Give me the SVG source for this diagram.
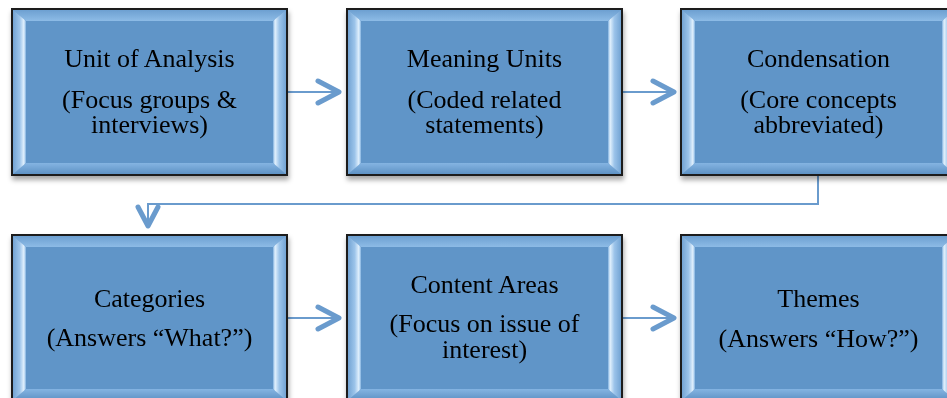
<svg xmlns="http://www.w3.org/2000/svg" width="947" height="398" viewBox="0 0 947 398">
<defs>
<filter id="sh" x="-10%" y="-10%" width="120%" height="125%">
<feDropShadow dx="1" dy="4" stdDeviation="2.5" flood-color="#000" flood-opacity="0.35"/>
</filter>
<linearGradient id="gl" x1="0" y1="0" x2="1" y2="0">
<stop offset="0" stop-color="#6d9fd0"/>
<stop offset="0.55" stop-color="#9cc4ea"/>
<stop offset="0.85" stop-color="#e2f1fd"/>
<stop offset="1" stop-color="#7fb0df"/>
</linearGradient>
<linearGradient id="gr" x1="1" y1="0" x2="0" y2="0">
<stop offset="0" stop-color="#6d9fd0"/>
<stop offset="0.55" stop-color="#9cc4ea"/>
<stop offset="0.85" stop-color="#e2f1fd"/>
<stop offset="1" stop-color="#7fb0df"/>
</linearGradient>
<linearGradient id="gt" x1="0" y1="0" x2="0" y2="1">
<stop offset="0" stop-color="#6a9dcf"/>
<stop offset="1" stop-color="#8dbbe6"/>
</linearGradient>
<linearGradient id="gb" x1="0" y1="1" x2="0" y2="0">
<stop offset="0" stop-color="#5b8fc2"/>
<stop offset="1" stop-color="#84b4e2"/>
</linearGradient>
<g id="box">
<rect x="0" y="0" width="275" height="166" fill="#6195c8"/>
<polygon points="0,0 275,0 261,12 14,12" fill="url(#gt)"/>
<polygon points="0,166 275,166 261,154 14,154" fill="url(#gb)"/>
<polygon points="0,0 14,12 14,154 0,166" fill="url(#gl)"/>
<polygon points="275,0 261,12 261,154 275,166" fill="url(#gr)"/>
<rect x="0" y="0" width="275" height="166" fill="none" stroke="#1a1a1a" stroke-width="2"/>
</g>
<style>
text{font-family:"Liberation Serif","Times New Roman",serif;font-size:26px;fill:#000;text-anchor:middle}
.ln{fill:none;stroke:#6a9bcd;stroke-width:2}
.hd{fill:none;stroke:#6a9bcd;stroke-width:5;stroke-linecap:round;stroke-linejoin:round}
</style>
</defs>

<g id="connectors">
<line class="ln" x1="288" y1="92" x2="339" y2="92"/>
<polyline class="hd" points="318,81 339,92 318,103"/>
<line class="ln" x1="623" y1="92" x2="674" y2="92"/>
<polyline class="hd" points="653,81 674,92 653,103"/>
<polyline class="ln" points="818,176 818,204 148,204 148,224"/>
<polyline class="hd" points="138,207 148,226 158,207"/>
<line class="ln" x1="288" y1="318" x2="339" y2="318"/>
<polyline class="hd" points="318,307 339,318 318,329"/>
<line class="ln" x1="623" y1="318" x2="674" y2="318"/>
<polyline class="hd" points="653,307 674,318 653,329"/>
</g>

<g id="unit-of-analysis" filter="url(#sh)">
<use href="#box" x="12" y="9"/>
<text x="149.5" y="67">Unit of Analysis</text>
<text x="149.5" y="108">(Focus groups &amp;</text>
<text x="149.5" y="133">interviews)</text>
</g>
<g id="meaning-units" filter="url(#sh)">
<use href="#box" x="347" y="9"/>
<text x="484.5" y="67">Meaning Units</text>
<text x="484.5" y="108">(Coded related</text>
<text x="484.5" y="133">statements)</text>
</g>
<g id="condensation" filter="url(#sh)">
<use href="#box" x="681" y="9"/>
<text x="818.5" y="67">Condensation</text>
<text x="818.5" y="108">(Core concepts</text>
<text x="818.5" y="133">abbreviated)</text>
</g>
<g id="categories" filter="url(#sh)">
<use href="#box" x="12" y="235"/>
<text x="149.5" y="307">Categories</text>
<text x="149.5" y="346">(Answers “What?”)</text>
</g>
<g id="content-areas" filter="url(#sh)">
<use href="#box" x="347" y="235"/>
<text x="484.5" y="293">Content Areas</text>
<text x="484.5" y="332">(Focus on issue of</text>
<text x="484.5" y="358">interest)</text>
</g>
<g id="themes" filter="url(#sh)">
<use href="#box" x="681" y="235"/>
<text x="818.5" y="307">Themes</text>
<text x="818.5" y="347">(Answers “How?”)</text>
</g>
</svg>
